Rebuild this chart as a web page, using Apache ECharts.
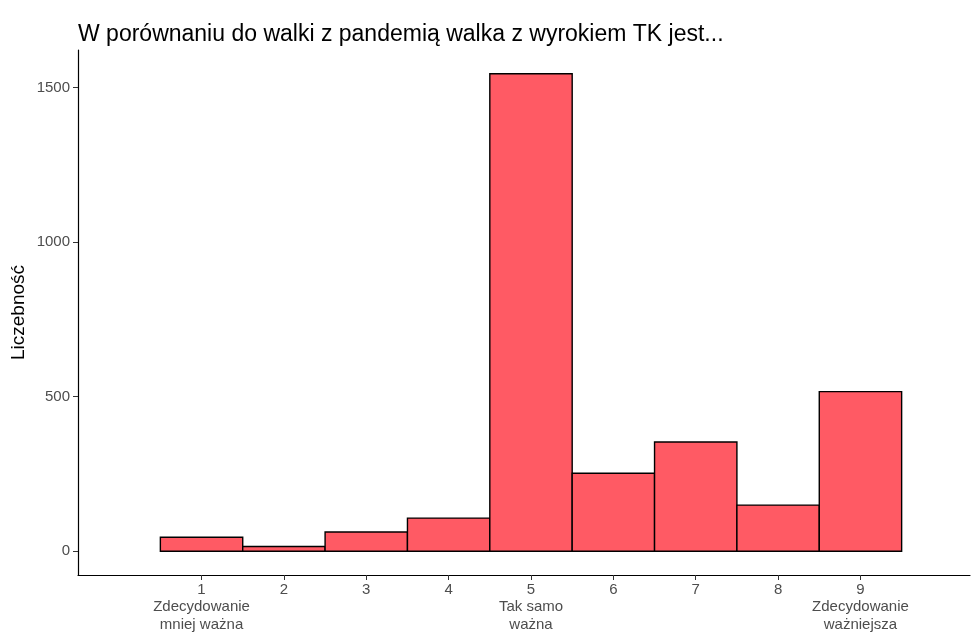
<!DOCTYPE html>
<html>
<head>
<meta charset="utf-8">
<script src="https://cdn.jsdelivr.net/npm/echarts@6/dist/echarts.min.js"></script>
<style>
  html, body { margin: 0; padding: 0; background: #fff; }
  #chart { width: 971px; height: 633px; }
</style>
</head>
<body>
<div id="chart"></div>
<script>
// odpowiedzi 1..9 i ich liczebności
const categories = [1, 2, 3, 4, 5, 6, 7, 8, 9];
const counts = [45, 15, 62, 107, 1544, 252, 353, 149, 516];
const xTickLabels = {
  1: '1\nZdecydowanie\nmniej ważna',
  5: '5\nTak samo\nważna',
  9: '9\nZdecydowanie\nważniejsza'
};
const yTicks = [0, 500, 1000, 1500];

const chart = echarts.init(document.getElementById('chart'));
const font = 'Liberation Sans, Arial, sans-serif';

const option = {
  animation: false,
  title: {
    text: 'W porównaniu do walki z pandemią walka z wyrokiem TK jest...',
    left: 73,
    top: 18,
    textStyle: { fontFamily: font, fontSize: 23, fontWeight: 'normal', color: '#000' }
  },
  grid: { left: 78, right: 1, top: 50, bottom: 58, outerBoundsMode: 'none' },
  xAxis: {
    type: 'value',
    min: -0.5,
    max: 10.33,
    splitLine: { show: false },
    axisLine: { onZero: false, lineStyle: { color: '#000', width: 1.2 } },
    axisTick: { customValues: categories, length: 5, lineStyle: { color: '#333' } },
    axisLabel: {
      customValues: categories,
      fontFamily: font,
      fontSize: 15,
      color: '#4d4d4d',
      lineHeight: 17.5,
      margin: 6,
      formatter: v => xTickLabels[v] || String(v)
    }
  },
  yAxis: {
    type: 'value',
    min: -77,
    max: 1621,
    name: 'Liczebność',
    nameLocation: 'middle',
    nameGap: 50,
    nameMoveOverlap: false,
    nameTextStyle: { fontFamily: font, fontSize: 19, color: '#000' },
    splitLine: { show: false },
    axisLine: { show: true, onZero: false, lineStyle: { color: '#000', width: 1.2 } },
    axisTick: { show: true, customValues: yTicks, length: 5, lineStyle: { color: '#333' } },
    axisLabel: {
      customValues: yTicks,
      fontFamily: font,
      fontSize: 15,
      color: '#4d4d4d',
      margin: 8,
      formatter: v => String(v)
    }
  },
  series: [{
    type: 'custom',
    data: categories.map((c, i) => [c, counts[i]]),
    encode: { x: 0, y: 1 },
    renderItem: function (params, api) {
      const x = api.value(0);
      const y = api.value(1);
      const p0 = api.coord([x - 0.5, y]);
      const p1 = api.coord([x + 0.5, 0]);
      return {
        type: 'rect',
        shape: { x: p0[0], y: p0[1], width: p1[0] - p0[0], height: p1[1] - p0[1] },
        style: { fill: '#FF5A64', stroke: '#000', lineWidth: 1.4 }
      };
    }
  }]
};

chart.setOption(option);
</script>
</body>
</html>
